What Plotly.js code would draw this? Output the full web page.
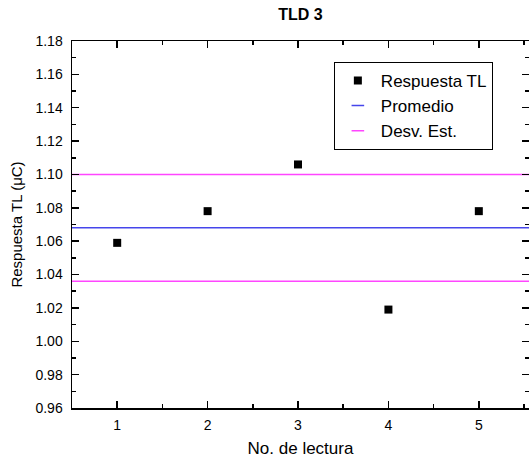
<!DOCTYPE html>
<html>
<head>
<meta charset="utf-8">
<script src="https://cdn.plot.ly/plotly-3.0.1.min.js"></script>
<style>html,body{margin:0;padding:0;background:#fff;}#chart{width:529px;height:463px;}</style>
</head>
<body>
<div id="chart"></div>
<script>
// Data
const lecturas = [1, 2, 3, 4, 5];
const respuestaTL = [1.059, 1.078, 1.106, 1.019, 1.078];
const promedio = 1.068;
const desvSup = 1.100;
const desvInf = 1.036;
const xTickVals = [1, 2, 3, 4, 5];
const yTickVals = [0.96, 0.98, 1.00, 1.02, 1.04, 1.06, 1.08, 1.10, 1.12, 1.14, 1.16, 1.18];
const xRange = [0.5, 5.555];
const yRange = [0.96, 1.18];

const blue = 'rgb(70,70,235)';
const magenta = 'rgb(255,70,255)';
const FONT = 'Liberation Sans, Arial, sans-serif';

const traces = [
  {x: xRange, y: [promedio, promedio], mode: 'lines', line: {color: blue, width: 1.5}, showlegend: false, hoverinfo: 'skip'},
  {x: xRange, y: [desvSup, desvSup], mode: 'lines', line: {color: magenta, width: 1.5}, showlegend: false, hoverinfo: 'skip'},
  {x: xRange, y: [desvInf, desvInf], mode: 'lines', line: {color: magenta, width: 1.5}, showlegend: false, hoverinfo: 'skip'},
  {x: lecturas, y: respuestaTL, mode: 'markers', name: 'Respuesta TL',
   marker: {symbol: 'square', size: 8, color: '#000'}},
  {x: [null], y: [null], mode: 'markers', name: 'Promedio',
   marker: {symbol: 'line-ew', size: 9, line: {color: blue, width: 1.5}}},
  {x: [null], y: [null], mode: 'markers', name: 'Desv. Est.',
   marker: {symbol: 'line-ew', size: 9, line: {color: magenta, width: 1.5}}}
];

const axisCommon = {
  showgrid: false, zeroline: false, showline: true, linecolor: '#000', linewidth: 1.5,
  mirror: 'ticks', ticks: 'inside', ticklen: 7, tickwidth: 1.5, tickcolor: '#000',
  tickfont: {family: FONT, size: 14, color: '#000'}
};

const layout = {
  width: 529, height: 463,
  margin: {l: 72, r: 0, t: 41, b: 55},
  paper_bgcolor: '#fff', plot_bgcolor: '#fff',
  font: {family: FONT, color: '#000'},
  title: {text: '<b>TLD 3</b>', font: {family: FONT, size: 16, color: '#000'},
          x: 0.5, xref: 'paper', y: 0.968, yref: 'container', yanchor: 'middle'},
  xaxis: Object.assign({}, axisCommon, {
    range: xRange, tickmode: 'array', tickvals: xTickVals, ticktext: xTickVals.map(String),
    ticklabelstandoff: 4,
    minor: {dtick: 0.5, tick0: 0.5, ticks: 'inside', ticklen: 4, tickwidth: 1.5, tickcolor: '#000'},
    title: {text: 'No. de lectura', font: {family: FONT, size: 17, color: '#000'}, standoff: 10}
  }),
  yaxis: Object.assign({}, axisCommon, {
    range: yRange, tickmode: 'array', tickvals: yTickVals, ticktext: yTickVals.map(v => v.toFixed(2)),
    ticklabelstandoff: 5,
    minor: {dtick: 0.01, tick0: 0.95, ticks: 'inside', ticklen: 4, tickwidth: 1.5, tickcolor: '#000'},
    title: {text: 'Respuesta TL (μC)', font: {family: FONT, size: 15, color: '#000'}, standoff: 9}
  }),
  legend: {x: 0.573, y: 0.943, xanchor: 'left', yanchor: 'top',
           bgcolor: '#fff', bordercolor: '#000', borderwidth: 1, itemwidth: 36,
           font: {family: FONT, size: 17, color: '#000'}, tracegroupgap: 0}
};

Plotly.newPlot('chart', traces, layout, {displayModeBar: false, staticPlot: true});
</script>
</body>
</html>
